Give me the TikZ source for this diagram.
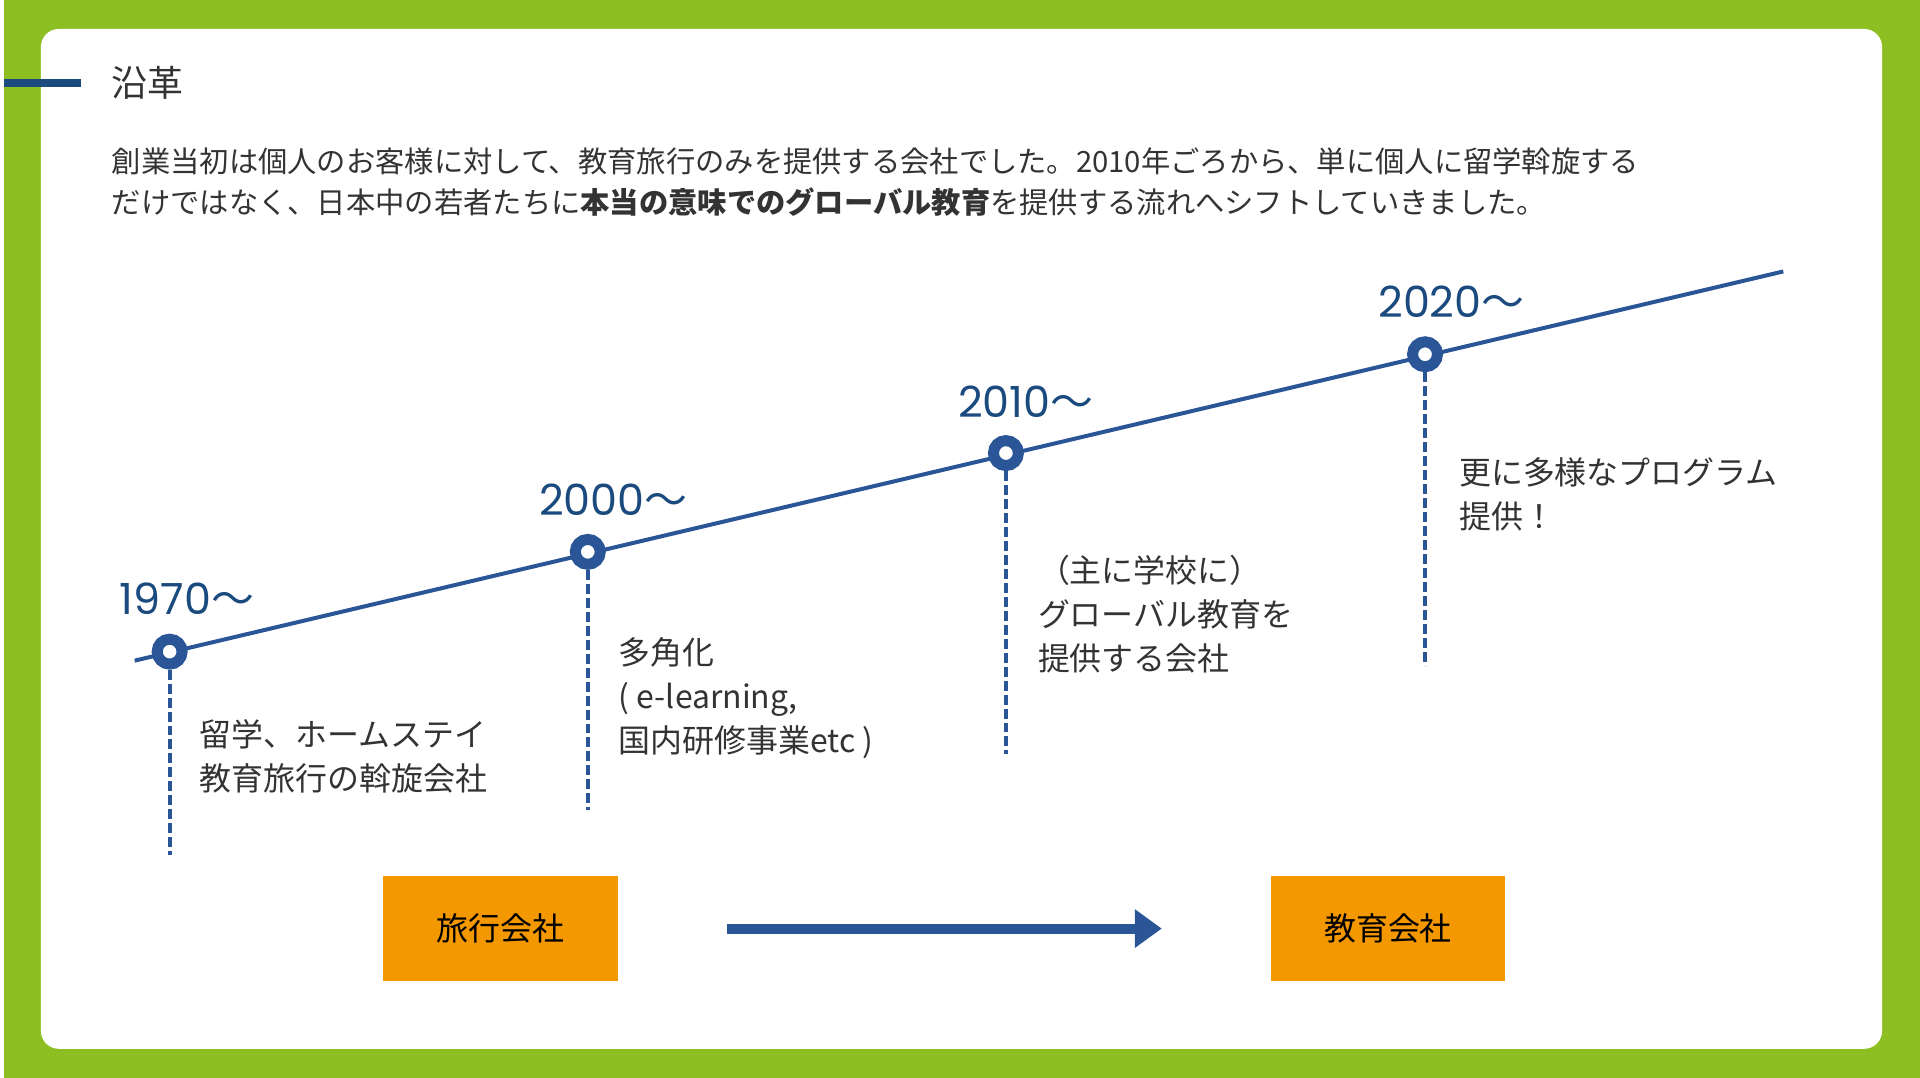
\documentclass[tikz,border=0pt]{standalone}
\usepackage{fontspec}
\setmainfont{Noto Sans CJK JP}
\newfontfamily\yearfont{Poppins}
\usepackage{tikz}
\usetikzlibrary{arrows.meta,positioning,calc}
\definecolor{bggreen}{HTML}{8DBE22}
\definecolor{navy}{HTML}{1B4A7E}
\definecolor{lineblue}{HTML}{2A5698}
\definecolor{boxorange}{HTML}{F39800}
\definecolor{textgray}{HTML}{333333}
\newcommand\yr[1]{{\yearfont #1}〜}

\begin{document}
\begin{tikzpicture}[x=1pt,y=-1pt,
  dot/.style={circle,draw=lineblue,line width=11pt,fill=white,
    minimum size=25pt,inner sep=0pt},
  year/.style={font=\fontsize{43}{43}\selectfont,text=navy,
    anchor=base west,inner sep=0pt},
  desc/.style={font=\fontsize{32}{44}\selectfont,text=textgray,
    align=left,anchor=north west,inner sep=0pt},
  guide/.style={draw=lineblue,line width=4pt,dash pattern=on 10pt off 4pt},
  company/.style={fill=boxorange,minimum width=235pt,minimum height=105pt,
    font=\fontsize{32}{32}\selectfont,inner sep=0pt}]
% background and card
\fill[bggreen] (0,0) rectangle (1920,1080);
\fill[white,rounded corners=18pt] (37,29) rectangle (1882,1051);
% heading
\node[anchor=west,inner sep=0pt,text=textgray,font=\fontsize{36}{36}\selectfont]
  (title) at (108,83) {沿革};
\coordinate (barend) at (77,83);
\draw[navy,line width=8pt] (0,83) -- (barend);
\node[anchor=west,inner sep=0pt,text=textgray,font=\fontsize{29.35}{29.35}\selectfont]
  (intro1) at (108,162) {創業当初は個人のお客様に対して、教育旅行のみを提供する会社でした。2010年ごろから、単に個人に留学斡旋する};
\node[anchor=west,inner sep=0pt,text=textgray,font=\fontsize{29.35}{29.35}\selectfont]
  (intro2) at (108,203) {だけではなく、日本中の若者たちに{\bfseries 本当の意味でのグローバル教育}を提供する流れへシフトしていきました。};
% timeline
\coordinate (tl0) at (131,662);
\coordinate (tl1) at (1783,272);
\draw[lineblue,line width=4pt] (tl0) -- (tl1);
\node[dot] (c1970) at (166,653) {};
\node[dot] (c2000) at (585,553) {};
\node[dot] (c2010) at (1004,454) {};
\node[dot] (c2020) at (1424,355) {};
\coordinate (e1970) at (166,857);
\coordinate (e2000) at (585,812);
\coordinate (e2010) at (1004,756);
\coordinate (e2020) at (1424,667);
\draw[guide] (c1970) -- (e1970);
\draw[guide] (c2000) -- (e2000);
\draw[guide] (c2010) -- (e2010);
\draw[guide] (c2020) -- (e2020);
% years
\node[year] (y1970) at (116,616) {\yr{1970}};
\node[year] (y2000) at (536,517) {\yr{2000}};
\node[year] (y2010) at (956,418) {\yr{2010}};
\node[year] (y2020) at (1377,318) {\yr{2020}};
% notes
\node[desc] (d1970) at (196,721) {留学、ホームステイ\\教育旅行の斡旋会社};
\node[desc] (d2000) at (616,639) {多角化\\( e-learning,\\国内研修事業etc )};
\node[desc] (d2010) at (1036,556) {（主に学校に）\\グローバル教育を\\提供する会社};
\node[desc] (d2020) at (1458,458) {更に多様なプログラム\\提供！};
% shift
\node[company] (travel) at (497.5,930.5) {旅行会社};
\node[company,right=654pt of travel] (edu) {教育会社};
\draw[lineblue,line width=10pt,-{Triangle[length=27pt,width=37pt]},
  shorten <=109pt,shorten >=109pt] (travel) -- (edu);
\end{tikzpicture}
\end{document}
